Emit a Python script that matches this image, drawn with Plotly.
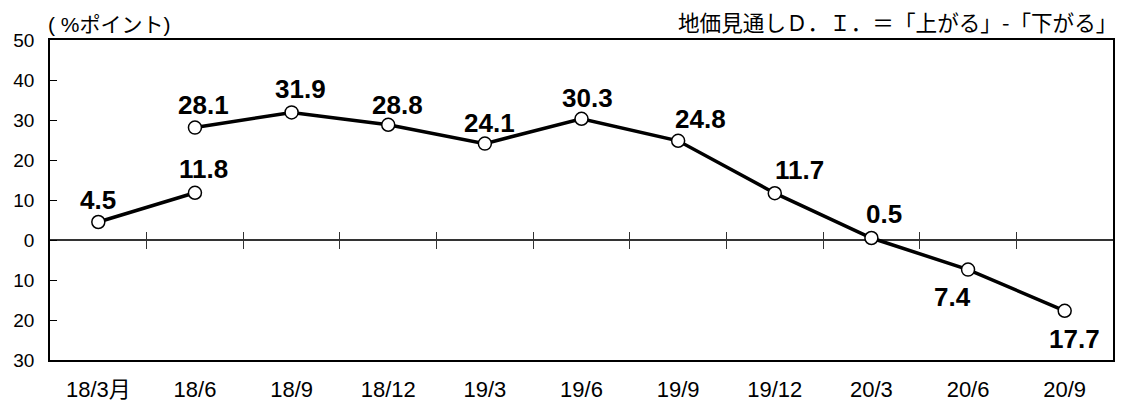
import plotly.graph_objects as go

# ---- data ----
categories = ["18/3月", "18/6", "18/9", "18/12", "19/3", "19/6", "19/9", "19/12", "20/3", "20/6", "20/9"]
series_old_idx = [0, 1]
series_old = [4.5, 11.8]
series_new_idx = [1, 2, 3, 4, 5, 6, 7, 8, 9, 10]
series_new = [28.1, 31.9, 28.8, 24.1, 30.3, 24.8, 11.7, 0.5, -7.4, -17.7]
y_ticks = [-30, -20, -10, 0, 10, 20, 30, 40, 50]
y_tick_labels = ["30", "20", "10", "0", "10", "20", "30", "40", "50"]
unit_label = "( %ポイント)"
note_label = "地価見通しＤ．Ｉ．＝「上がる」-「下がる」"

# ---- style ----
ymin, ymax = -30, 50
n = len(categories)
xr = [-0.5, n - 0.5]
label_font = dict(family="Liberation Sans, Arial, sans-serif", size=26, color="black", weight="bold")
tick_font_x = dict(family="Liberation Sans, Arial, Noto Sans CJK JP, sans-serif", size=22, color="black")
tick_font_y = dict(family="Liberation Sans, Arial, sans-serif", size=19, color="black")
title_font = dict(family="Liberation Sans, Arial, Noto Sans CJK JP, sans-serif", size=21, color="black")
note_font = dict(family="Noto Sans CJK JP, sans-serif", size=21.6, color="black")

# label offsets (px) for old and new series
old_offsets = [(0, 22), (9, 24)]
new_offsets = [(9, 23), (9, 23), (9, 20), (5, 21), (6, 21), (22, 22), (25, 23), (13, 24), (-16, -27), (10, -28)]

marker = dict(symbol="circle", size=13, color="white", line=dict(color="black", width=1.5))
line = dict(color="black", width=3.5)

fig = go.Figure()
fig.add_trace(go.Scatter(x=series_old_idx, y=series_old, mode="lines+markers",
                         line=line, marker=marker, showlegend=False, hoverinfo="skip"))
fig.add_trace(go.Scatter(x=series_new_idx, y=series_new, mode="lines+markers",
                         line=line, marker=marker, showlegend=False, hoverinfo="skip"))
# helper traces to register zero-line tick axes
fig.add_trace(go.Scatter(x=[], y=[], xaxis="x2", showlegend=False, hoverinfo="skip"))
fig.add_trace(go.Scatter(x=[], y=[], xaxis="x3", showlegend=False, hoverinfo="skip"))

annotations = []
for xs, ys, offs in [(series_old_idx, series_old, old_offsets), (series_new_idx, series_new, new_offsets)]:
    for xi, yi, (dx, dy) in zip(xs, ys, offs):
        annotations.append(dict(x=xi, y=yi, xref="x", yref="y", text=f"{abs(yi):.1f}",
                                showarrow=False, xshift=dx, yshift=dy, font=label_font,
                                xanchor="center", yanchor="middle"))
annotations.append(dict(x=0, y=1, xref="paper", yref="paper", text=unit_label, showarrow=False,
                        xanchor="left", yanchor="bottom", yshift=2, xshift=-4, font=title_font))
annotations.append(dict(x=1, y=1, xref="paper", yref="paper", text=note_label, showarrow=False,
                        xanchor="right", yanchor="bottom", yshift=1, xshift=6, font=note_font))

boundaries = [i + 0.5 for i in range(n - 1)]
zero_pos = (0 - ymin) / (ymax - ymin)

fig.update_layout(
    width=1128, height=403,
    margin=dict(l=50, r=15, t=40, b=43),
    paper_bgcolor="white", plot_bgcolor="white",
    annotations=annotations,
    xaxis=dict(range=xr, tickmode="array", tickvals=list(range(n)), ticktext=categories,
               showline=True, linecolor="black", linewidth=1.5, mirror=True,
               ticks="", showgrid=False, zeroline=False, tickfont=tick_font_x,
               ticklabelstandoff=9, automargin=False),
    xaxis2=dict(overlaying="x", anchor="free", position=zero_pos, range=xr,
                tickmode="array", tickvals=boundaries, ticks="outside", ticklen=8,
                tickcolor="#333", tickwidth=1.2, showticklabels=False, showline=False,
                showgrid=False, zeroline=False, automargin=False),
    xaxis3=dict(overlaying="x", anchor="free", position=zero_pos, range=xr,
                tickmode="array", tickvals=boundaries, ticks="inside", ticklen=8,
                tickcolor="#333", tickwidth=1.2, showticklabels=False, showline=False,
                showgrid=False, zeroline=False, automargin=False),
    yaxis=dict(range=[ymin, ymax], tickmode="array", tickvals=y_ticks, ticktext=y_tick_labels,
               ticks="inside", ticklen=7, tickcolor="black", tickwidth=1,
               showline=True, linecolor="black", linewidth=1.5, mirror=True,
               showgrid=False, zeroline=True, zerolinecolor="#333", zerolinewidth=1.5,
               tickfont=tick_font_y, ticklabelstandoff=10, automargin=False),
)

fig.write_html("out.html", config={"displayModeBar": False},
               post_script="document.body.style.margin='0';")
